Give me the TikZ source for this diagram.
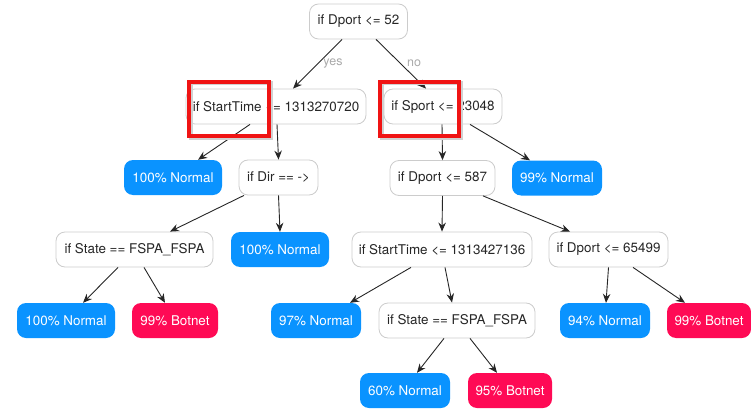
\documentclass[tikz,border=0pt]{standalone}
\usepackage{fontspec}
\setmainfont{TeX Gyre Heros}
\usetikzlibrary{arrows.meta,calc}
\definecolor{leafblue}{HTML}{0A93FF}
\definecolor{leafred}{HTML}{FF0A55}
\definecolor{splitborder}{HTML}{CCCCCC}
\definecolor{edgelabel}{HTML}{AAAAAA}
\definecolor{markred}{HTML}{F01414}
\begin{document}
\begin{tikzpicture}[x=1pt,y=-1pt,
  base/.style={rectangle, rounded corners=9pt, minimum height=35pt, inner sep=0pt,
    font=\fontsize{13.4}{16}\selectfont},
  split/.style={base, draw=splitborder, line width=0.8pt, fill=white, text=black!85},
  normal/.style={base, fill=leafblue, text=white},
  botnet/.style={base, fill=leafred, text=white},
  link/.style={draw=black!85, line width=0.9pt, -{Stealth[length=9pt,width=7.5pt]}},
  branch/.style={text=edgelabel, font=\fontsize{12.5}{15}\selectfont},
  marker/.style={rectangle, draw=markred, line width=4pt, inner sep=0pt,
    preaction={draw=black!18, line width=4pt,
      transform canvas={shift={(1.5pt,-1.5pt)}}}}
]
\useasboundingbox (0,0) rectangle (751,409);

% decision nodes and leaves
\node[split, minimum width=98pt]  (root)   at (358.5,21.5)  {if Dport <= 52};
\node[split, minimum width=180pt] (st1)    at (276,106.5)   {if StartTime <= 1313270720};
\node[split, minimum width=118pt] (sp)     at (443,106.5)   {if Sport <= 23048};
\node[normal, minimum width=98pt] (n1)     at (173,177.5)   {100\% Normal};
\node[split, minimum width=79pt]  (dir)    at (278.5,177.5) {if Dir == ->};
\node[split, minimum width=105pt] (d587)   at (442.5,178)   {if Dport <= 587};
\node[normal, minimum width=90pt] (n99)    at (557,178)     {99\% Normal};
\node[split, minimum width=157pt] (state1) at (134.5,249.5) {if State == FSPA\_FSPA};
\node[normal, minimum width=98pt] (n2)     at (280,249.5)   {100\% Normal};
\node[split, minimum width=180pt] (st2)    at (442,249.5)   {if StartTime <= 1313427136};
\node[split, minimum width=119pt] (d65)    at (608.5,249.5) {if Dport <= 65499};
\node[normal, minimum width=98pt] (n3)     at (66,320.5)    {100\% Normal};
\node[botnet, minimum width=86pt] (b1)     at (175,320.5)   {99\% Botnet};
\node[normal, minimum width=90pt] (n97)    at (316,320.5)   {97\% Normal};
\node[split, minimum width=156pt] (state2) at (457,320.5)   {if State == FSPA\_FSPA};
\node[normal, minimum width=90pt] (n94)    at (605,320.5)   {94\% Normal};
\node[botnet, minimum width=84pt] (b2)     at (709,320.5)   {99\% Botnet};
\node[normal, minimum width=90pt] (n60)    at (405,390.5)   {60\% Normal};
\node[botnet, minimum width=84pt] (b3)     at (510,390.5)   {95\% Botnet};

% connectors
\draw[link] ([xshift=-16.5pt]root.south) -- ([xshift=17pt]st1.north);
\draw[link] ([xshift=17.5pt]root.south)  -- ([xshift=-17pt]sp.north);
\draw[link] ([xshift=-26pt]st1.south)    -- ([xshift=25pt]n1.north);
\draw[link] ([xshift=1pt]st1.south)      -- (dir.north);
\draw[link] ([xshift=-1pt]sp.south)      -- (d587.north);
\draw[link] ([xshift=27pt]sp.south)      -- ([xshift=-27pt]n99.north);
\draw[link] ([xshift=-34.5pt]dir.south)  -- ([xshift=35.5pt]state1.north);
\draw[link] (dir.south)                  -- (n2.north);
\draw[link] (d587.south)                 -- (st2.north);
\draw[link] ([xshift=40.5pt]d587.south)  -- ([xshift=-38.5pt]d65.north);
\draw[link] ([xshift=-16.5pt]state1.south) -- ([xshift=17pt]n3.north);
\draw[link] ([xshift=9.5pt]state1.south) -- ([xshift=-10pt]b1.north);
\draw[link] ([xshift=-31pt]st2.south)    -- ([xshift=34pt]n97.north);
\draw[link] ([xshift=3pt]st2.south)      -- ([xshift=-5pt]state2.north);
\draw[link] (d65.south)                  -- ([xshift=1pt]n94.north);
\draw[link] ([xshift=24.5pt]d65.south)   -- ([xshift=-24pt]b2.north);
\draw[link] ([xshift=-13pt]state2.south) -- ([xshift=12pt]n60.north);
\draw[link] ([xshift=13pt]state2.south)  -- ([xshift=-13pt]b3.north);

% branch labels
\node[branch] (yes) at (333,63) {yes};
\node[branch] (no)  at (414,63) {no};

% highlight frames
\node[marker, minimum width=80pt, minimum height=54pt] (mark1) at (229,109) {};
\node[marker, minimum width=79pt, minimum height=54pt] (mark2) at (419.5,109) {};
\end{tikzpicture}
\end{document}
